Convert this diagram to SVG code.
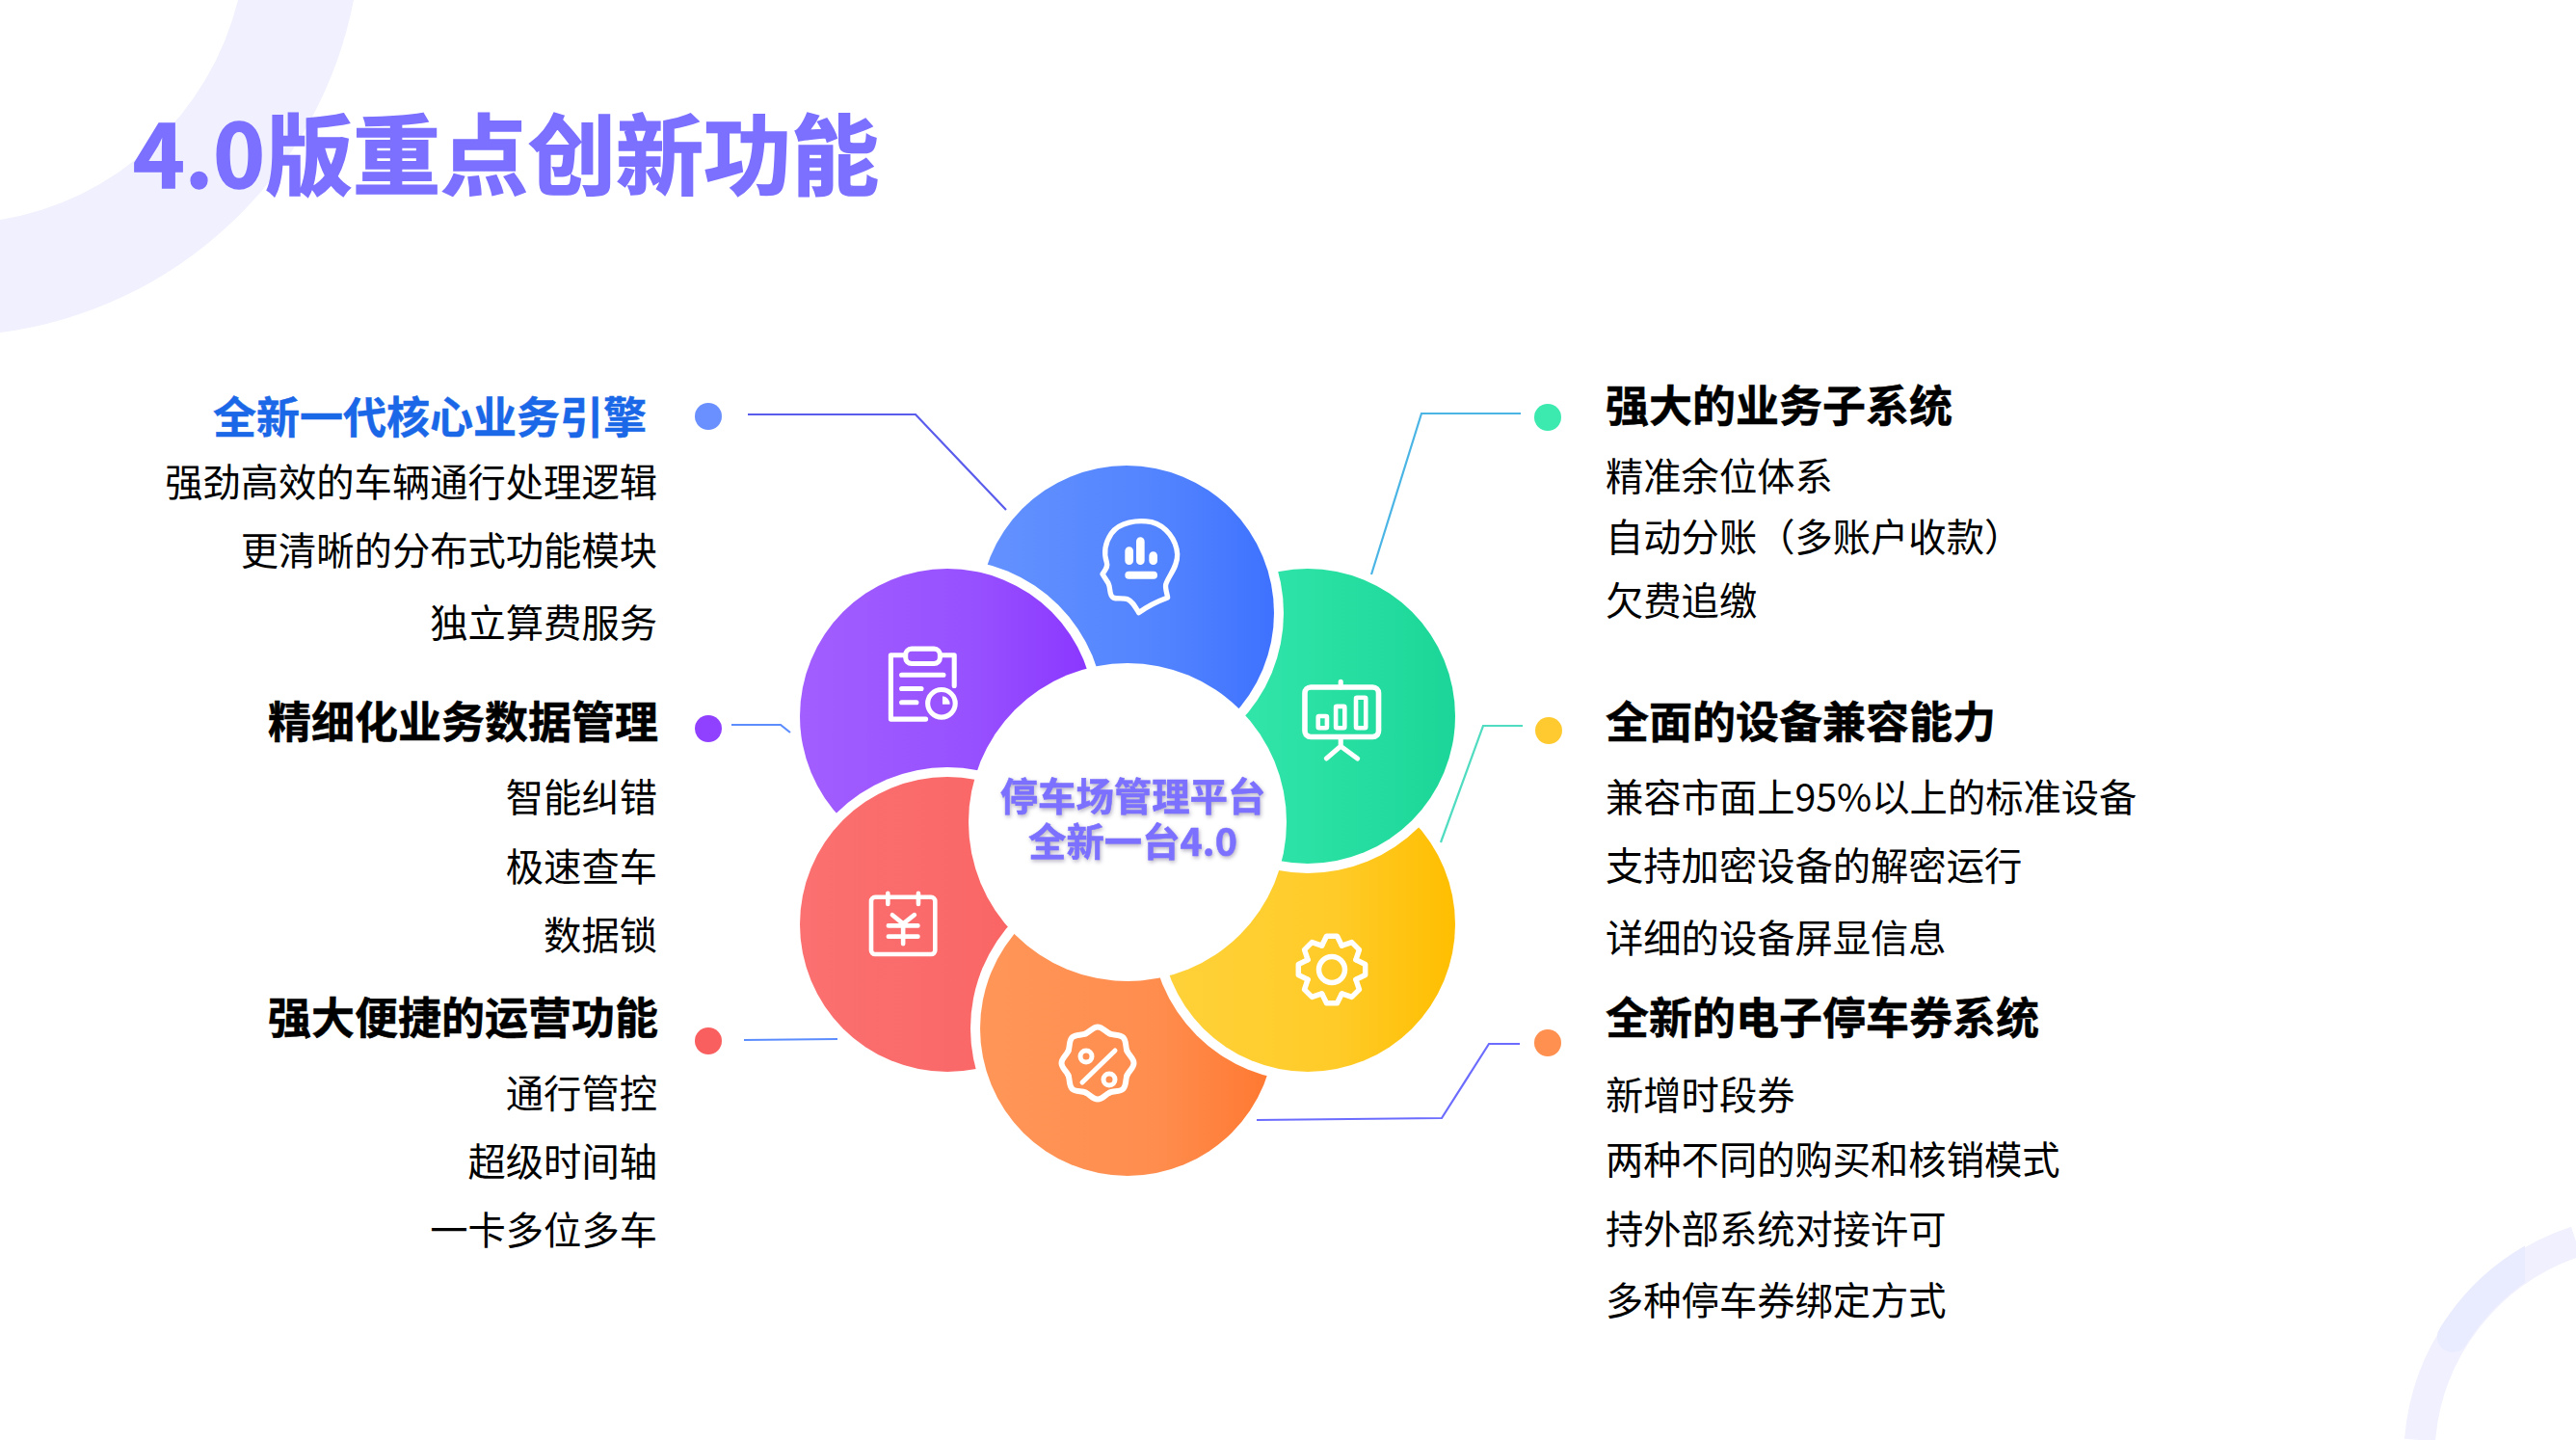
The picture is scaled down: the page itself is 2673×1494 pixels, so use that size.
<svg xmlns="http://www.w3.org/2000/svg" xmlns:xlink="http://www.w3.org/1999/xlink" width="2673" height="1494" viewBox="0 0 2673 1494">
<style>
text{font-family:"Noto Sans CJK SC","Noto Sans",sans-serif}
.h{font-size:45px;font-weight:700;fill:#000;stroke:#000;stroke-width:.5}
.b{font-size:39.3px;font-weight:400;fill:#000}
.e{text-anchor:end}
.c{fill:none;stroke-width:2.2;stroke-linejoin:miter}
.i{fill:none;stroke:#fff;stroke-linecap:round;stroke-linejoin:round}
</style>
<defs>
<linearGradient id="gB"><stop offset="0" stop-color="#6492ff"/><stop offset=".6" stop-color="#5384ff"/><stop offset="1" stop-color="#3e72ff"/></linearGradient>
<linearGradient id="gG"><stop offset="0" stop-color="#3beab0"/><stop offset=".6" stop-color="#28dfa2"/><stop offset="1" stop-color="#1bd698"/></linearGradient>
<linearGradient id="gY"><stop offset="0" stop-color="#ffd23a"/><stop offset=".6" stop-color="#ffcb28"/><stop offset="1" stop-color="#ffbe00"/></linearGradient>
<linearGradient id="gO"><stop offset="0" stop-color="#ff9658"/><stop offset=".6" stop-color="#ff8d4e"/><stop offset="1" stop-color="#ff7830"/></linearGradient>
<linearGradient id="gR"><stop offset="0" stop-color="#fb7070"/><stop offset=".6" stop-color="#fa6868"/><stop offset="1" stop-color="#f95c5c"/></linearGradient>
<linearGradient id="gP"><stop offset="0" stop-color="#a25eff"/><stop offset=".6" stop-color="#9750ff"/><stop offset="1" stop-color="#8a36ff"/></linearGradient>
<mask id="mB" maskUnits="userSpaceOnUse" x="0" y="0" width="2673" height="1494"><rect width="2673" height="1494" fill="#fff"/><circle cx="983" cy="743" r="163" fill="#000"/></mask>
<mask id="mG" maskUnits="userSpaceOnUse" x="0" y="0" width="2673" height="1494"><rect width="2673" height="1494" fill="#fff"/><circle cx="1169" cy="636" r="163" fill="#000"/></mask>
<mask id="mY" maskUnits="userSpaceOnUse" x="0" y="0" width="2673" height="1494"><rect width="2673" height="1494" fill="#fff"/><circle cx="1357" cy="743" r="163" fill="#000"/></mask>
<mask id="mO" maskUnits="userSpaceOnUse" x="0" y="0" width="2673" height="1494"><rect width="2673" height="1494" fill="#fff"/><circle cx="1357" cy="959" r="163" fill="#000"/></mask>
<mask id="mR" maskUnits="userSpaceOnUse" x="0" y="0" width="2673" height="1494"><rect width="2673" height="1494" fill="#fff"/><circle cx="1170" cy="1067" r="163" fill="#000"/></mask>
<mask id="mP" maskUnits="userSpaceOnUse" x="0" y="0" width="2673" height="1494"><rect width="2673" height="1494" fill="#fff"/><circle cx="983" cy="959" r="163" fill="#000"/></mask>
<clipPath id="cD"><rect x="2500" y="1280" width="120" height="130"/></clipPath>
<path id="tooth" d="M-10.3,-25 L-5.5,-34.7 L5.5,-34.7 L10.3,-25"/>
<path id="wave" d="M-12.6,-30.5 C-8,-32.4 -5,-37.5 0,-37.5 C5,-37.5 8,-32.4 12.6,-30.5"/>
</defs>
<rect width="2673" height="1494" fill="#fff"/>
<g id="decor">
<path d="M247,0 L367,0 A430,430 0 0 1 0,345 L0,228 A305,305 0 0 0 247,0 Z" fill="#f0f0fe"/>
<path d="M2511,1494 A237,237 0 0 1 2673,1288" fill="none" stroke="#f0f0fe" stroke-width="32"/>
<path d="M2545,1387 A237,237 0 0 1 2640,1300" fill="none" stroke="#e9ebfe" stroke-width="32" stroke-linecap="round" clip-path="url(#cD)"/>
</g>
<text id="title" x="138" y="195" font-size="91" font-weight="700" fill="#7b70ff" stroke="#7b70ff" stroke-width="1.5">4.0版重点创新功能</text>
<g id="connectors">
<path class="c" stroke="#5a5cec" d="M776,430 L950,430 L1044,529"/>
<path class="c" stroke="#5c8dff" d="M759,752 L810,752 L820,760"/>
<path class="c" stroke="#5c8dff" d="M772,1079 L869,1078"/>
<path class="c" stroke="#4ab5e5" d="M1578,429 L1475,429 L1423,596"/>
<path class="c" stroke="#50dcc0" d="M1580,753 L1539,753 L1495,874"/>
<path class="c" stroke="#6c6cff" d="M1577,1083 L1545,1083 L1496,1160 L1304,1162"/>
</g>
<g id="petal-blue"><circle cx="1169" cy="636" r="153" fill="url(#gB)" mask="url(#mB)"/>
<g transform="translate(1130,525) scale(.3333)">
<path class="i" stroke-width="16" d="M155,332 C143,312 135,296 120,290 C105,286 85,290 75,285 C62,278 68,255 60,240 L42,212 C50,198 60,190 55,175 C45,145 50,115 70,85 C95,50 150,42 195,50 C240,62 272,105 275,150 C277,190 245,220 239,245 C237,258 243,272 245,285 C215,296 185,310 155,332 Z"/>
<path class="i" stroke-width="26" d="M125,140 V170 M160,110 V170 M200,155 V170"/>
<path class="i" stroke-width="24" d="M124,215 H201"/>
</g></g>
<g id="petal-green"><circle cx="1357" cy="743" r="153" fill="url(#gG)" mask="url(#mG)"/>
<g transform="translate(780,440) scale(.5102)">
<rect class="i" stroke-width="11" x="1125" y="535" width="150" height="101" rx="12"/>
<path class="i" stroke-width="10" d="M1198,524 V535 M1198,636 V655 L1169,680 M1198,655 L1232,680"/>
<rect class="i" stroke-width="9" x="1152" y="594" width="18" height="24" rx="2"/>
<rect class="i" stroke-width="9" x="1188" y="574" width="18" height="44" rx="2"/>
<rect class="i" stroke-width="9" x="1229" y="556" width="20" height="62" rx="2"/>
</g></g>
<g id="petal-yellow"><circle cx="1357" cy="959" r="153" fill="url(#gY)" mask="url(#mY)"/>
<g transform="translate(1382,1006)" class="i" stroke-width="5.5">
<circle r="13.5"/>
<use xlink:href="#tooth"/><use xlink:href="#tooth" transform="rotate(45)"/><use xlink:href="#tooth" transform="rotate(90)"/><use xlink:href="#tooth" transform="rotate(135)"/><use xlink:href="#tooth" transform="rotate(180)"/><use xlink:href="#tooth" transform="rotate(225)"/><use xlink:href="#tooth" transform="rotate(270)"/><use xlink:href="#tooth" transform="rotate(315)"/>
</g></g>
<g id="petal-orange"><circle cx="1170" cy="1067" r="153" fill="url(#gO)" mask="url(#mO)"/>
<g transform="translate(1139,1103)" class="i" stroke-width="6">
<use xlink:href="#wave"/><use xlink:href="#wave" transform="rotate(45)"/><use xlink:href="#wave" transform="rotate(90)"/><use xlink:href="#wave" transform="rotate(135)"/><use xlink:href="#wave" transform="rotate(180)"/><use xlink:href="#wave" transform="rotate(225)"/><use xlink:href="#wave" transform="rotate(270)"/><use xlink:href="#wave" transform="rotate(315)"/>
<path d="M-16,20 L18,-13" stroke-width="5"/>
<circle cx="-12" cy="-7" r="6" stroke-width="5"/>
<circle cx="12" cy="17" r="6" stroke-width="5"/>
</g></g>
<g id="petal-red"><circle cx="983" cy="959" r="153" fill="url(#gR)" mask="url(#mR)"/>
<g transform="translate(780,440) scale(.5102)">
<rect class="i" stroke-width="9" x="243" y="962" width="130" height="116" rx="8"/>
<path class="i" stroke-width="9" d="M277,954 V976 M339,954 V976 M286,998 L308,1016 L331,998 M278,1020 H338 M278,1042 H338 M308,1016 V1057"/>
</g></g>
<g id="petal-purple"><circle cx="983" cy="743" r="153" fill="url(#gP)" mask="url(#mP)"/>
<g transform="translate(780,440) scale(.5102)">
<path class="i" stroke-width="10" d="M354,600 H283 V470 H312 M384,470 H412 V532 M305,510 H390 M305,538 H345 M305,566 H335"/>
<rect class="i" stroke-width="10" x="313" y="457" width="70" height="30" rx="12"/>
<circle class="i" stroke-width="10" cx="386" cy="568" r="28"/>
<path d="M388,553 V570 H403 A16,16 0 0 0 388,553 Z" fill="#fff"/>
</g></g>
<g id="center">
<circle cx="1170" cy="853" r="165" fill="#fff"/>
<g style="filter:drop-shadow(1px 2px 2px rgba(90,80,120,.45))" font-size="39.4" font-weight="700" fill="#7b70ff" stroke="#7b70ff" stroke-width=".5" text-anchor="middle">
<text x="1175.5" y="841">停车场管理平台</text>
<text x="1175.5" y="888">全新一台4.0</text>
</g>
</g>
<g id="item-engine">
<circle cx="735" cy="432" r="14" fill="#6a90ff"/>
<text class="h e" x="671" y="450" style="fill:#1a68e8;stroke:#1a68e8">全新一代核心业务引擎</text>
<text class="b e" x="682" y="515">强劲高效的车辆通行处理逻辑</text>
<text class="b e" x="682" y="586">更清晰的分布式功能模块</text>
<text class="b e" x="682" y="661">独立算费服务</text>
</g>
<g id="item-data">
<circle cx="735" cy="756" r="14" fill="#9040ff"/>
<text class="h e" x="683" y="766">精细化业务数据管理</text>
<text class="b e" x="682" y="842">智能纠错</text>
<text class="b e" x="682" y="914">极速查车</text>
<text class="b e" x="682" y="985">数据锁</text>
</g>
<g id="item-ops">
<circle cx="735" cy="1080" r="14" fill="#f95f5f"/>
<text class="h e" x="683" y="1073">强大便捷的运营功能</text>
<text class="b e" x="682" y="1149">通行管控</text>
<text class="b e" x="682" y="1220">超级时间轴</text>
<text class="b e" x="682" y="1291">一卡多位多车</text>
</g>
<g id="item-subsystem">
<circle cx="1606" cy="433" r="14" fill="#3ceab0"/>
<text class="h" x="1666" y="438">强大的业务子系统</text>
<text class="b" x="1666" y="509">精准余位体系</text>
<text class="b" x="1666" y="572">自动分账（多账户收款）</text>
<text class="b" x="1666" y="638">欠费追缴</text>
</g>
<g id="item-device">
<circle cx="1607" cy="758" r="14" fill="#ffca30"/>
<text class="h" x="1666" y="766">全面的设备兼容能力</text>
<text class="b" x="1666" y="842">兼容市面上95%以上的标准设备</text>
<text class="b" x="1666" y="913">支持加密设备的解密运行</text>
<text class="b" x="1666" y="988">详细的设备屏显信息</text>
</g>
<g id="item-coupon">
<circle cx="1606" cy="1082" r="14" fill="#ff9050"/>
<text class="h" x="1666" y="1073">全新的电子停车券系统</text>
<text class="b" x="1666" y="1151">新增时段券</text>
<text class="b" x="1666" y="1218">两种不同的购买和核销模式</text>
<text class="b" x="1666" y="1290">持外部系统对接许可</text>
<text class="b" x="1666" y="1364">多种停车券绑定方式</text>
</g>
</svg>
